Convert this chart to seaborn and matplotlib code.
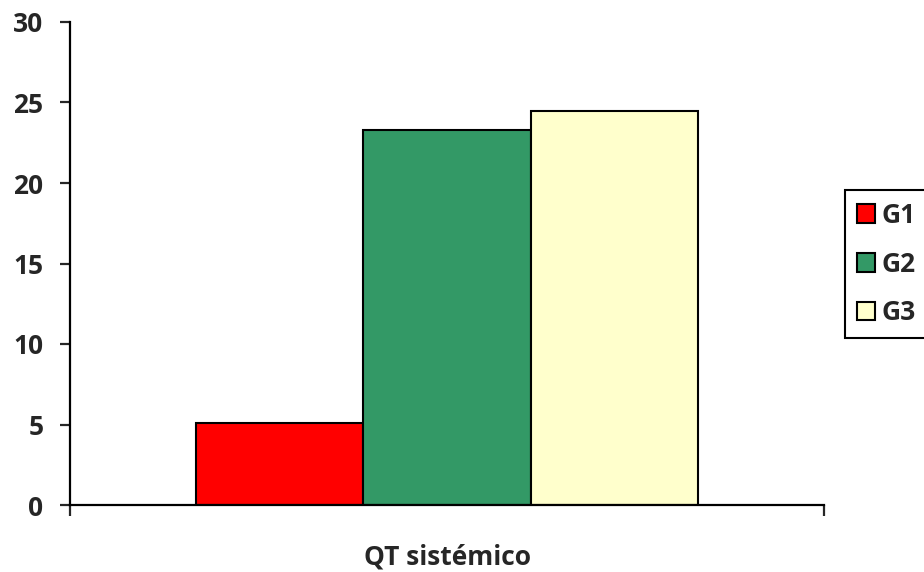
import matplotlib
matplotlib.use("Agg")
import matplotlib.pyplot as plt
import seaborn as sns
import pandas as pd

# Data
categories = ["QT sistémico"]
groups = ["G1", "G2", "G3"]
values = [5.1, 23.3, 24.5]
colors = ["#FF0000", "#339966", "#FFFFCC"]
y_ticks = [0, 5, 10, 15, 20, 25, 30]

df = pd.DataFrame({
    "categoria": categories * len(groups),
    "grupo": groups,
    "valor": values,
})

sns.set_style("white")
plt.rcParams["font.family"] = ["Open Sans", "DejaVu Sans"]
plt.rcParams["font.weight"] = "bold"

FS = 19

fig = plt.figure(figsize=(9.24, 5.72), dpi=100)
ax = fig.add_axes([70 / 924, 1 - 505 / 572, 754 / 924, 483 / 572])

sns.barplot(data=df, x="categoria", y="valor", hue="grupo",
            palette=colors, width=0.666, edgecolor="black", linewidth=1.5,
            saturation=1, ax=ax, legend=True)

ax.set_xlim(-0.5, 0.5)
ax.set_ylim(0, 30)
ax.set_yticks(y_ticks)
ax.set_yticklabels([str(t) for t in y_ticks], fontsize=FS, fontweight="bold")
ax.set_xticks([-0.5, 0.5])
ax.set_xticklabels(["", ""])
ax.set_ylabel("")
ax.set_xlabel(categories[0], fontsize=FS, fontweight="bold", labelpad=16)

for side in ["top", "right"]:
    ax.spines[side].set_visible(False)
for side in ["left", "bottom"]:
    ax.spines[side].set_linewidth(1.6)
    ax.spines[side].set_color("black")

ax.tick_params(axis="y", direction="out", length=7, width=1.6, pad=12, left=True)
ax.tick_params(axis="x", direction="out", length=8, width=1.6, bottom=True)

handles, labels = ax.get_legend_handles_labels()
ax.legend(handles, labels, loc="upper left",
          bbox_to_anchor=(845 / 924, 1 - 190 / 572), bbox_transform=fig.transFigure,
          borderaxespad=0, frameon=True, fancybox=False, framealpha=1,
          edgecolor="black", prop={"size": FS, "weight": "bold"},
          handlelength=0.7, handleheight=0.7, handletextpad=0.25,
          labelspacing=0.82, borderpad=0.45)
ax.get_legend().get_frame().set_linewidth(1.5)

fig.savefig("out.png", dpi=100)
